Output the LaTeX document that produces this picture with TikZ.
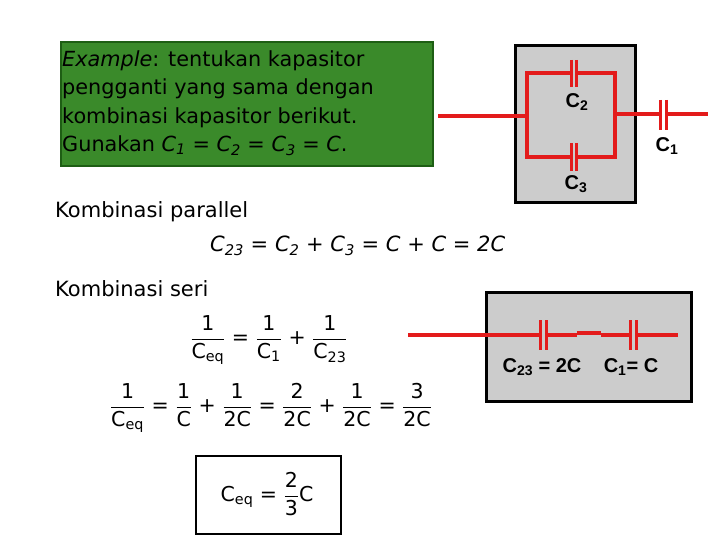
\documentclass[tikz,border=0pt]{standalone}
\usepackage{amsmath}
\usepackage{fontspec}
\setmainfont{DejaVu Sans}
\newfontfamily\arialf{Liberation Sans}
\definecolor{gr}{HTML}{3A8A2A}
\definecolor{grb}{HTML}{1E5E14}
\definecolor{wire}{HTML}{E31B1B}
\definecolor{gbox}{HTML}{CCCCCC}
\newcommand{\tx}[1]{\text{#1}}
\begin{document}
\begin{tikzpicture}[x=1pt,y=-1pt,
  w/.style={draw=wire,line width=3.5pt},
  pl/.style={draw=wire,line width=3pt},
  lbl/.style={font=\arialf\bfseries\fontsize{20}{22}\selectfont},
  txt/.style={anchor=west,inner sep=0pt,font=\fontsize{21}{25}\selectfont},
  eq/.style={inner sep=0pt,font=\fontsize{20.5}{25}\selectfont}]
\useasboundingbox (0,0) rectangle (720,540);
\node[fill=gr,draw=grb,line width=2pt,minimum width=372pt,minimum height=124pt,anchor=north west] (ex) at (60,41) {};
\node[anchor=north west,align=left,inner sep=0pt,font=\fontsize{20.8}{28.5}\selectfont] (ext) at (62,50)
 {\textit{Example}: tentukan kapasitor\\pengganti yang sama dengan\\kombinasi kapasitor berikut.\\Gunakan \textit{C\textsubscript{1} = C\textsubscript{2} = C\textsubscript{3} = C}.};
% top circuit
\node[fill=gbox,draw=black,line width=3pt,minimum width=120pt,minimum height=157pt,anchor=north west] (b1) at (514,44) {};
\coordinate (a) at (438,116); \coordinate (l) at (527,116);
\draw[w] (a) -- (l);
\draw[w] (571,73) -- (527,73) -- (527,157) -- (571,157);
\draw[w] (576,73) -- (615,73) -- (615,157) -- (576,157);
\draw[pl] (571,60) -- (571,87) (576,60) -- (576,87);
\draw[pl] (571,143) -- (571,171) (576,143) -- (576,171);
\draw[w] (615,114) -- (660,114) (666,114) -- (708,114);
\draw[pl] (660,100) -- (660,130) (666,100) -- (666,130);
\node[lbl] (c2) at (577,102) {C\textsubscript{2}};
\node[lbl] (c3) at (576,184) {C\textsubscript{3}};
\node[lbl] (c1) at (667,146) {C\textsubscript{1}};
% text
\node[txt] (kp) at (55,212) {Kombinasi parallel};
\node[txt] (c23) at (210,246) {\textit{C\textsubscript{23} = C\textsubscript{2} + C\textsubscript{3} = C + C = 2C}};
\node[txt] (ks) at (55,289) {Kombinasi seri};
\node[eq] (e1) at (269,340) {$\dfrac{\tx{1}}{\tx{C}_{\tx{eq}}}\tx{ = }\dfrac{\tx{1}}{\tx{C}_{\tx{1}}}\tx{ + }\dfrac{\tx{1}}{\tx{C}_{\tx{23}}}$};
\node[eq] (e2) at (271,408) {$\dfrac{\tx{1}}{\tx{C}_{\tx{eq}}}\tx{ = }\dfrac{\tx{1}}{\tx{C}}\tx{ + }\dfrac{\tx{1}}{\tx{2C}}\tx{ = }\dfrac{\tx{2}}{\tx{2C}}\tx{ + }\dfrac{\tx{1}}{\tx{2C}}\tx{ = }\dfrac{\tx{3}}{\tx{2C}}$};
\node[draw=black,line width=2pt,minimum width=145pt,minimum height=78pt,anchor=north west] (rb) at (195,455) {};
\node[eq] (e3) at (267,494) {$\tx{C}_{\tx{eq}}\tx{ = }\dfrac{\tx{2}}{\tx{3}}\tx{C}$};
% bottom circuit
\node[fill=gbox,draw=black,line width=3pt,minimum width=205pt,minimum height=109pt,anchor=north west] (b2) at (485,291) {};
\draw[w] (408,335) -- (540,335) (546,335) -- (577,335);
\draw[w] (577,333) -- (601,333);
\draw[w] (601,335) -- (630,335) (636,335) -- (678,335);
\draw[pl] (540,320) -- (540,350) (546,320) -- (546,350);
\draw[pl] (630,320) -- (630,350) (636,320) -- (636,350);
\node[lbl] (l23) at (542,367) {C\textsubscript{23} = 2C};
\node[lbl] (l1) at (631,367) {C\textsubscript{1}= C};
\end{tikzpicture}
\end{document}
